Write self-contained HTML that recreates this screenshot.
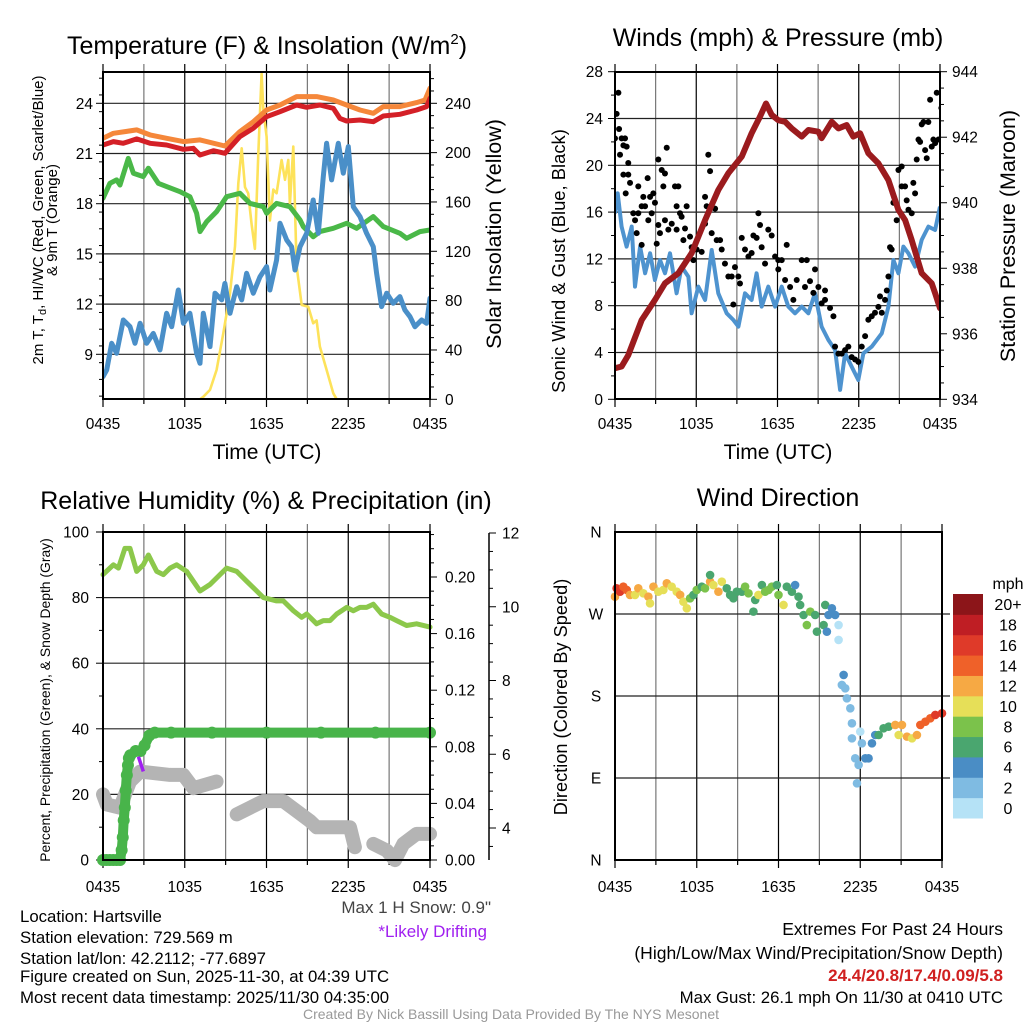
<!DOCTYPE html>
<html><head><meta charset="utf-8"><style>
html,body{margin:0;padding:0;background:#fff;}
svg{display:block;font-family:"Liberation Sans",Arial,sans-serif;}
</style></head><body>
<svg id="chart" width="1024" height="1024" viewBox="0 0 1024 1024" xmlns="http://www.w3.org/2000/svg">
<rect width="1024" height="1024" fill="#fff"/>
<g id="layer"></g>
<!-- titles -->
<text x="267" y="54" font-size="25" text-anchor="middle">Temperature (F) &amp; Insolation (W/m<tspan font-size="15" dy="-10">2</tspan><tspan dy="10">)</tspan></text>
<text x="778" y="46" font-size="25" text-anchor="middle">Winds (mph) &amp; Pressure (mb)</text>
<text x="266" y="509" font-size="25" text-anchor="middle">Relative Humidity (%) &amp; Precipitation (in)</text>
<text x="778" y="506" font-size="25" text-anchor="middle">Wind Direction</text>
<!-- axis titles -->
<text x="267" y="459" font-size="21" text-anchor="middle">Time (UTC)</text>
<text x="778" y="459" font-size="21" text-anchor="middle">Time (UTC)</text>
<text transform="translate(43,220) rotate(-90)" font-size="15" text-anchor="middle">2m T, T<tspan font-size="11" dy="3">d</tspan><tspan dy="-3">, HI/WC (Red, Green, Scarlet/Blue)</tspan></text>
<text transform="translate(57,220) rotate(-90)" font-size="15" text-anchor="middle">&amp; 9m T (Orange)</text>
<text transform="translate(501,234) rotate(-90)" font-size="21.5" text-anchor="middle">Solar Insolation (Yellow)</text>
<text transform="translate(565,261) rotate(-90)" font-size="18.4" text-anchor="middle">Sonic Wind &amp; Gust (Blue, Black)</text>
<text transform="translate(1015,236) rotate(-90)" font-size="21.5" text-anchor="middle">Station Pressure (Maroon)</text>
<text transform="translate(50,700) rotate(-90)" font-size="13.9" text-anchor="middle">Percent, Precipitation (Green), &amp; Snow Depth (Gray)</text>
<text transform="translate(567,697) rotate(-90)" font-size="18.2" text-anchor="middle">Direction (Colored By Speed)</text>
<!-- footer -->
<g font-size="16.8">
<text x="20" y="922">Location: Hartsville</text>
<text x="20" y="943">Station elevation: 729.569 m</text>
<text x="20" y="964">Station lat/lon: 42.2112; -77.6897</text>
<text x="20" y="982">Figure created on Sun, 2025-11-30, at 04:39 UTC</text>
<text x="20" y="1003">Most recent data timestamp: 2025/11/30 04:35:00</text>
</g>
<text x="491" y="913" font-size="17" text-anchor="end" fill="#444">Max 1 H Snow: 0.9"</text>
<text x="487" y="937" font-size="17" text-anchor="end" fill="#a020f0">*Likely Drifting</text>
<g text-anchor="end">
<text x="1003" y="935" font-size="17.5">Extremes For Past 24 Hours</text>
<text x="1003" y="959" font-size="17.5">(High/Low/Max Wind/Precipitation/Snow Depth)</text>
<text x="1003" y="981" font-size="17" fill="#d02020" font-weight="bold">24.4/20.8/17.4/0.09/5.8</text>
<text x="1003" y="1003" font-size="16.8">Max Gust: 26.1 mph On 11/30 at 0410 UTC</text>
</g>
<text x="511" y="1019" font-size="14" text-anchor="middle" fill="#999">Created By Nick Bassill Using Data Provided By The NYS Mesonet</text>
</svg>
<script>
// ---- Panel 1 data ----
const tempH=[0,0.76,1.49,2.47,3.45,4.67,5.9,6.63,7.12,8.10,8.95,10.05,11.03,12.01,12.99,14.21,14.95,15.92,16.90,17.39,17.88,18.86,19.84,20.57,21.79,23.02,23.75,24];
const tempF=[21.51,21.71,21.61,21.87,21.61,21.51,21.25,21.31,20.91,21.17,21.01,22.01,22.51,23.20,23.50,23.90,23.76,23.90,23.70,23.10,22.94,23.0,22.9,23.24,23.34,23.6,23.8,24.3];
const t9H=[0,0.76,2.47,3.45,4.67,5.9,7.12,8.95,10.05,11.03,12.01,12.99,14.21,15.68,16.90,17.88,18.86,19.84,20.57,21.79,23.02,23.63,24];
const t9F=[21.91,22.21,22.41,22.11,21.91,21.71,21.81,21.45,22.31,22.9,23.6,23.9,24.4,24.4,24.2,23.9,23.6,23.4,23.8,23.8,24.04,24.2,24.9];
const tdH=[0,0.51,1.0,1.25,1.86,2.23,2.96,3.33,4.06,4.67,5.65,6.38,6.87,7.12,7.61,8.34,9.07,10.05,10.79,11.77,12.01,12.74,13.72,14.46,14.70,15.43,15.92,16.90,17.88,18.61,19.84,20.57,21.79,22.28,23.26,24];
const tdF=[18.32,19.22,19.42,19.12,20.71,19.82,19.62,20.12,19.22,19.02,18.72,18.42,17.43,16.33,16.93,17.53,18.42,18.62,18.02,17.82,17.43,18.02,17.82,17.03,16.63,16.03,16.33,16.53,16.83,16.53,17.23,16.63,16.23,15.93,16.33,16.43];
const hiH=[0,0.27,0.64,1.0,1.49,1.98,2.35,2.72,3.20,3.69,4.18,4.67,5.04,5.53,5.90,6.38,6.87,7.12,7.36,7.85,8.22,8.71,8.95,9.32,9.81,10.18,10.54,11.03,11.52,12.01,12.25,12.74,12.99,13.48,13.84,14.09,14.46,14.95,15.43,15.80,16.17,16.41,16.78,17.27,17.64,18.0,18.37,18.86,19.35,19.84,20.08,20.45,20.82,21.30,21.79,22.16,22.53,22.89,23.38,23.75,24];
const hiF=[7.67,8.06,9.66,9.06,11.05,10.65,9.66,10.85,9.66,10.25,9.26,11.45,10.65,12.84,10.85,11.45,9.06,8.46,11.45,9.46,12.65,12.25,13.24,11.45,13.04,12.25,13.84,12.65,13.64,14.24,12.84,14.64,16.83,15.83,15.43,14.04,15.43,16.23,18.22,16.23,19.62,21.61,19.42,21.61,19.82,21.41,17.82,17.23,16.23,15.43,13.84,11.85,12.65,12.05,12.45,11.65,11.25,10.65,11.05,10.85,12.35];
const solH=[0,7.12,7.36,7.85,8.34,8.83,9.32,9.69,9.93,10.18,10.42,10.66,10.91,11.15,11.40,11.64,11.77,12.01,12.25,12.50,12.74,13.11,13.36,13.6,13.72,13.97,14.21,14.58,15.07,15.43,15.68,15.92,16.41,16.90,17.15,24];
const solW=[0,0,2,7.6,23.8,53.5,86,124,175,203.5,172,167,142,122,199,264,234,213,145,170,167,194,178,194,158,205,108,76.5,75,61.6,64,42.7,23.8,4.9,0,0];
const tempTicks=[9,12,15,18,21,24];
const solarTicks=[0,40,80,120,160,200,240];
const timeLabels=["0435","1035","1635","2235","0435"];
// ---- Panel 2 data ----
const presH=[0,.49,.98,1.97,2.95,3.69,4.68,5.66,6.65,7.63,8.37,9.36,10.09,10.71,11.15,11.57,12.06,12.56,13.05,13.79,14.28,15.02,15.26,16.0,16.5,17.11,17.6,18.1,18.71,19.45,20.19,20.93,21.42,21.91,22.65,23.39,23.64,24];
const presMb=[934.95,935.0,935.35,936.42,937.03,937.54,937.85,938.46,939.47,940.39,940.9,941.41,942.12,942.63,943.03,942.68,942.52,942.47,942.27,942.02,942.22,942.17,941.97,942.47,942.27,942.37,942.02,942.12,941.51,941.2,940.69,939.78,939.47,938.86,937.85,937.54,937.24,936.78];
const windH=[0,.20,.49,.86,1.23,1.48,1.85,2.22,2.59,2.95,3.32,3.69,4.06,4.55,4.92,5.42,5.66,6.15,6.65,7.14,7.63,8.25,8.74,9.11,9.6,10.09,10.46,10.83,11.32,11.82,12.31,12.8,13.29,13.79,14.28,14.77,15.26,15.76,16.25,16.62,16.99,17.48,17.97,18.34,18.96,19.7,20.19,20.56,20.93,21.3,21.67,22.16,22.65,23.14,23.64,24];
const windMph=[15.90,17.61,14.76,13.05,14.76,9.63,13.05,10.77,12.48,10.20,11.91,10.77,12.48,9.06,11.34,10.48,7.35,9.63,8.49,12.76,9.06,7.35,6.78,6.21,9.06,8.49,10.77,7.92,9.63,7.92,9.63,7.92,7.35,7.92,7.35,9.06,6.21,5.07,4.22,0.80,3.93,2.79,1.65,3.93,4.50,5.64,7.92,11.91,10.77,13.05,12.48,11.34,13.62,14.76,14.47,16.47];
const gustH=[0,.12,.25,.3,.49,.62,.74,.37,.62,.86,.98,1.11,.79,.98,1.35,1.48,1.6,1.72,1.72,1.97,2.09,2.22,2.41,2.59,2.83,2.71,2.95,2.46,1.97,3.2,3.45,3.69,3.82,3.57,3.2,3.32,3.08,3.69,3.94,4.19,4.43,4.68,4.55,4.8,4.92,4.55,5.17,5.05,5.29,5.54,5.66,5.79,6.03,6.4,6.65,6.77,6.89,7.02,7.14,6.65,7.39,7.51,7.76,7.88,8.12,8.37,8.62,8.86,9.11,9.23,8.74,9.36,9.6,9.85,10.09,10.22,10.46,10.59,10.71,10.83,11.08,11.32,11.57,11.82,12.06,12.06,12.31,12.68,12.56,12.93,13.17,13.42,13.79,14.16,14.03,14.4,14.77,14.65,15.02,15.26,15.51,15.51,15.88,16.13,16.25,16.5,16.74,16.99,17.23,17.48,17.73,17.97,18.22,18.47,18.71,18.96,19.2,19.45,19.57,19.7,19.94,20.07,20.19,20.31,20.43,20.56,20.8,20.93,21.17,21.17,21.42,21.54,21.67,21.91,22.03,22.16,22.28,22.41,22.53,22.65,22.78,22.9,23.02,23.14,23.27,23.39,23.51,23.64,23.76,23.88,24.1];
const gustMph=[22.3,24.4,26.2,23.1,22.3,21.7,22.3,20.9,19.2,21.6,20.2,18.5,17.6,19.2,15.9,15.3,14.2,15.9,18.2,16.5,17.3,16.5,18.9,17.3,17.6,15.9,16.8,15.3,13.2,20.5,19.6,19.3,21.5,18.2,14.9,14.2,13.3,15.3,14.5,15.0,18.2,18.2,16.5,15.9,15.6,14.5,14.6,13.6,16.5,13.9,13.0,11.9,12.8,12.6,17.3,16.5,20.9,19.5,14.2,15.0,16.3,13.6,13.6,12.8,11.6,10.5,10.5,11.3,10.5,9.9,8.1,13.8,12.8,12.2,12.5,14.0,13.8,15.9,14.9,13.0,11.6,14.5,14.0,12.2,11.9,11.1,11.9,13.2,10.2,9.6,8.5,10.2,11.9,11.9,9.6,10.1,11.1,9.1,9.6,8.2,8.5,9.3,7.8,7.1,4.5,3.9,3.9,4.2,4.5,3.6,3.4,3.2,4.5,5.4,6.8,7.1,7.4,7.9,8.8,7.4,8.5,9.3,10.5,13.0,12.8,16.8,15.3,19.6,19.9,18.2,18.2,17.0,16.2,15.9,18.5,17.6,20.5,22.2,22.0,23.5,23.7,21.3,20.6,23.7,25.6,21.6,22.2,21.9,26.2,22.2,24.9];
const windTicks=[0,4,8,12,16,20,24,28];
const presTicks=[934,936,938,940,942,944];
// ---- Panel 3 data ----
const rhH=[0,0.76,1.13,1.61,1.98,2.47,2.96,3.33,3.94,4.43,4.92,5.41,6.14,6.63,7.12,7.85,8.59,9.07,9.81,10.54,11.28,11.77,12.74,13.23,13.97,14.58,14.95,15.68,16.17,16.66,17.15,17.88,18.37,18.86,19.35,19.84,20.45,21.06,21.55,22.28,23.02,24];
const rhPct=[87,90,89,95,95,88,90,93,88,87,89,90,88,85,82,84,87,89,88,85,82,80,79,79,76,74,75,72,73,73,75,77,76,77,77,78,75,74,73,71.5,72,71];
const precipH=[0,0.25,0.5,0.75,1.0,1.25,1.37,1.45,1.52,1.6,1.67,1.75,1.83,1.9,2.0,2.4,2.75,3.05,3.4,3.8,5,8,12,16,20,24];
const precipIn=[0,0,0,0,0,0,0.007,0.016,0.028,0.037,0.049,0.06,0.067,0.072,0.074,0.077,0.077,0.081,0.088,0.09,0.09,0.09,0.09,0.09,0.09,0.09];
const snowH=[0,0.27,1.25,1.98,2.72,4.92,5.9,6.63,8.34,null,9.81,10.79,11.77,13.23,14.21,15.19,15.68,18.13,18.49,null,19.84,20.82,21.43,22.04,23.02,24];
const snowIn=[4.91,4.64,4.55,5.26,5.53,5.44,5.44,5.08,5.26,null,4.37,4.55,4.73,4.73,4.46,4.19,4.02,4.02,3.48,null,3.57,3.39,3.13,3.57,3.84,3.84];
const rhTicks=[0,20,40,60,80,100];
const precipTicks=[0,0.04,0.08,0.12,0.16,0.20];
const snowTicks=[4,6,8,10,12];
// ---- Panel 4 data ----
const dirH=[0,.12,.37,.61,.86,1.1,1.47,1.71,2.08,2.45,2.57,2.82,3.18,3.55,3.8,4.16,4.53,4.78,5.02,5.27,5.51,5.76,6.0,6.37,6.61,6.98,6.98,7.22,7.59,7.84,8.2,8.45,8.69,8.94,9.31,9.55,9.8,10.16,10.29,10.53,10.78,11.02,11.27,11.51,11.88,12.0,12.37,12.61,12.98,13.22,13.47,13.59,13.84,14.08,14.33,14.69,14.82,15.31,15.43,15.55,15.67,15.92,16.16,16.41,16.41,16.78,16.65,16.9,17.02,17.27,17.39,17.39,17.63,17.76,17.88,18.0,18.12,18.37,18.61,18.86,19.1,19.35,19.71,20.08,20.57,20.82,21.06,21.43,21.8,22.16,22.41,22.78,23.14,23.51,24];
const dirDeg=[289.0,298.2,294.5,300.0,296.4,290.9,290.9,298.2,292.7,289.0,281.7,300.0,294.5,296.4,303.7,300.0,294.5,290.9,283.5,276.2,287.2,290.9,296.4,300.0,298.2,305.5,312.8,301.8,294.5,305.5,298.2,290.9,287.2,294.5,294.5,300.0,292.7,272.6,285.4,290.9,301.8,294.5,296.4,300.0,301.8,290.9,279.9,300.0,294.5,301.8,289.0,279.9,268.9,257.9,272.6,268.9,250.6,257.9,279.9,250.6,268.9,276.2,268.9,257.9,241.5,203.1,192.1,188.4,177.4,166.5,150.0,133.5,111.6,84.2,104.3,140.9,128.1,111.6,111.6,128.1,137.2,137.2,144.5,146.3,148.2,137.2,148.2,135.4,133.5,137.2,148.2,151.8,155.5,159.2,161.0];
const dirSpd=[13,17,16,15,14,12,10,12,11,12,10,12,11,11,12,11,11,12,10,10,8,7,8,7,9,13,6,11,12,10,7,6,6,7,6,8,8,6,7,10,7,8,9,8,7,8,10,7,6,4,6,6,6,8,8,6,6,6,6,4,4,4,4,1,0,4,2,2,2,2,2,2,2,2,2,1,2,4,4,4,4,6,6,7,12,10,12,12,10,12,14,14,15,16,16];
const dirLabels=["N","E","S","W","N"];
const speedBins=["0","2","4","6","8","10","12","14","16","18","20+"];
const speedColors=["#b5e2f6","#7fbbe2","#4a8dc5","#4aa66f","#7bc24b","#e6df58","#f6a944","#ef6129","#df3a29","#bf1e24","#8c1519"];

const NS="http://www.w3.org/2000/svg";
const layer=document.getElementById('layer');
const TF=15.5;
function el(tag,attrs,parent){const e=document.createElementNS(NS,tag);for(const k in attrs)e.setAttribute(k,attrs[k]);(parent||layer).appendChild(e);return e;}
function txt(x,y,s,size,anchor,parent){const t=el('text',{x:x,y:y,'font-size':size,'text-anchor':anchor||'middle'},parent);t.textContent=s;return t;}
function lin(d0,d1,r0,r1){return v=>r0+(v-d0)/(d1-d0)*(r1-r0);}
function pathOf(hs,vs,xf,yf){let d='',pen=false;for(let i=0;i<hs.length;i++){if(hs[i]===null||vs[i]===null){pen=false;continue;}d+=(pen?'L':'M')+xf(hs[i]).toFixed(1)+','+yf(vs[i]).toFixed(1);pen=true;}return d;}

function frame(x0,x1,y0,y1,name){
  const g=el('g',{});
  
  
  for(let i=1;i<8;i++){const x=x0+(x1-x0)*i/8;el('line',{x1:x,x2:x,y1:y0-8,y2:y1,stroke:i%2?'#777':'#000','stroke-width':1.2},g);}
  for(let i=0;i<=8;i++){const x=x0+(x1-x0)*i/8;el('line',{x1:x,x2:x,y1:y1,y2:y1+(i%2?5:8),stroke:'#000','stroke-width':1.2},g);if(i==0||i==8)el('line',{x1:x,x2:x,y1:y0-8,y2:y0,stroke:'#000','stroke-width':1.2},g);}
  return g;
}
function box(x0,x1,y0,y1,name){const r=el('rect',{x:x0,y:y0,width:x1-x0,height:y1-y0,fill:'none',stroke:'#000','stroke-width':2});}
function xLabels(x0,x1,y){const g=el('g',{});timeLabels.forEach((s,i)=>txt(x0+(x1-x0)*i/4,y,s,TF,'middle',g));}

// ===== Panel 1 =====
(function(){
  const x0=103,x1=430,y0=72,y1=399;
  const X=lin(0,24,x0,x1), Y=lin(24,21,103.3,153.5), YS=lin(0,240,399.3,103.3);
  const g=frame(x0,x1,y0,y1,'temp');
  tempTicks.forEach(v=>{const y=Y(v);el('line',{x1:x0,x2:x1,y1:y,y2:y,stroke:'#222','stroke-width':1.2},g);el('line',{x1:x0-7,x2:x0,y1:y,y2:y,stroke:'#000'},g);const t=txt(x0-10,y+5.5,String(v),TF,'end');});
  for(let v=6.5;v<26;v+=1){const y=Y(v);if(y>y0&&y<y1)el('line',{x1:x0-4,x2:x0,y1:y,y2:y,stroke:'#000'},g);}
  for(let w=0;w<=260;w+=10){const y=YS(w);el('line',{x1:x1,x2:x1+(w%40?4:7),y1:y,y2:y,stroke:'#000'},g);}
  solarTicks.forEach(v=>{const t=txt(x1+15,YS(v)+5.5,String(v),TF,'start');});
  xLabels(x0,x1,429);
  const cp=el('clipPath',{id:'c1'});el('rect',{x:x0,y:y0,width:x1-x0,height:y1-y0},cp);
  const sg=el('g',{'clip-path':'url(#c1)'});
  let p;
  p=el('path',{d:pathOf(solH,solW,X,YS),fill:'none',stroke:'#fde25a','stroke-width':2.6,'stroke-linejoin':'round'},sg);
  p=el('path',{d:pathOf(tdH,tdF,X,Y),fill:'none',stroke:'#4ab848','stroke-width':5,'stroke-linejoin':'round','stroke-linecap':'round'},sg);
  p=el('path',{d:pathOf(hiH,hiF,X,Y),fill:'none',stroke:'#4a8fc8','stroke-width':5,'stroke-linejoin':'round','stroke-linecap':'round'},sg);
  p=el('path',{d:pathOf(t9H,t9F,X,Y),fill:'none',stroke:'#f5873a','stroke-width':5,'stroke-linejoin':'round','stroke-linecap':'round'},sg);
  p=el('path',{d:pathOf(tempH,tempF,X,Y),fill:'none',stroke:'#d42027','stroke-width':5,'stroke-linejoin':'round','stroke-linecap':'round'},sg);
  box(x0,x1,y0,y1,'temp');
})();

// ===== Panel 2 =====
(function(){
  const x0=615,x1=940,y0=72,y1=399;
  const X=lin(0,24,x0,x1), Y=lin(0,28,399.3,71.7), YP=lin(934,944,399.3,71.7);
  const g=frame(x0,x1,y0,y1,'wind');
  windTicks.forEach(v=>{const y=Y(v);if(v>0&&v<28)el('line',{x1:x0,x2:x1,y1:y,y2:y,stroke:'#222','stroke-width':1.2},g);el('line',{x1:x0-7,x2:x0,y1:y,y2:y,stroke:'#000'},g);const t=txt(x0-12,y+5.5,String(v),TF,'end');});
  for(let v=2;v<28;v+=4)el('line',{x1:x0-4,x2:x0,y1:Y(v),y2:Y(v),stroke:'#000'},g);
  for(let v=934;v<=944.01;v+=0.5){const y=YP(v);el('line',{x1:x1,x2:x1+((v*2)%4?4:7),y1:y,y2:y,stroke:'#000'},g);}
  presTicks.forEach(v=>{const t=txt(x1+12,YP(v)+5.5,String(v),TF,'start');});
  xLabels(x0,x1,429);
  const cp=el('clipPath',{id:'c2'});el('rect',{x:x0,y:y0,width:x1-x0,height:y1-y0},cp);
  const sg=el('g',{'clip-path':'url(#c2)'});
  let p=el('path',{d:pathOf(windH,windMph,X,Y),fill:'none',stroke:'#4e93cf','stroke-width':4,'stroke-linejoin':'round'},sg);
  
  
  const dg=el('g',{},sg);
  
  
  gustH.forEach((h,i)=>{const c=el('circle',{cx:X(h),cy:Y(gustMph[i]),r:3,fill:'#000'},dg);});
  p=el('path',{d:pathOf(presH,presMb,X,YP),fill:'none',stroke:'#9b1b1e','stroke-width':6,'stroke-linejoin':'round','stroke-linecap':'round'},sg);
  
  
  box(x0,x1,y0,y1,'wind');
})();

// ===== Panel 3 =====
(function(){
  const x0=103,x1=430,y0=532,y1=860;
  const X=lin(0,24,x0,x1), Y=lin(0,100,860,532), YI=lin(0,0.2,860,577), YS=lin(12,4,533,828);
  const g=frame(x0,x1,y0,y1,'rh');
  rhTicks.forEach(v=>{const y=Y(v);if(v>0&&v<100)el('line',{x1:x0,x2:x1,y1:y,y2:y,stroke:'#222','stroke-width':1.2},g);el('line',{x1:x0-7,x2:x0,y1:y,y2:y,stroke:'#000'},g);const t=txt(x0-14,y+5.5,String(v),TF,'end');});
  for(let v=10;v<100;v+=20)el('line',{x1:x0-4,x2:x0,y1:Y(v),y2:Y(v),stroke:'#000'},g);
  for(let k=0;k<=23;k++){const v=k*0.01,y=YI(v);el('line',{x1:x1,x2:x1+(k%4?4:7),y1:y,y2:y,stroke:'#000'},g);}
  precipTicks.forEach(v=>{const t=txt(x1+15,YI(v)+5.5,v.toFixed(2),TF,'start');});
  el('line',{x1:489,x2:489,y1:533,y2:860,stroke:'#000','stroke-width':1.5},g);
  for(let k=0;k<=17;k++){const v=12-k*0.5,y=YS(v);if(y<=861)el('line',{x1:489,x2:489+(k%4?4:7),y1:y,y2:y,stroke:'#000'},g);}
  snowTicks.forEach(v=>{const t=txt(502,YS(v)+5.5,String(v),TF,'start');});
  xLabels(x0,x1,892);
  const cp=el('clipPath',{id:'c3'});el('rect',{x:x0-10,y:y0,width:x1-x0+20,height:y1-y0+12},cp);
  const sg=el('g',{'clip-path':'url(#c3)'});
  let p=el('path',{d:pathOf(snowH,snowIn,X,YS),fill:'none',stroke:'#b4b4b4','stroke-width':14,'stroke-linejoin':'round','stroke-linecap':'round'},sg);
  
  
  p=el('path',{d:pathOf(precipH,precipIn,X,YI),fill:'none',stroke:'#48b44a','stroke-width':10,'stroke-linejoin':'round','stroke-linecap':'round'},sg);
  
  
  precipH.forEach((h,i)=>{const c=el('circle',{cx:X(h),cy:YI(precipIn[i]),r:6,fill:'#48b44a'},sg);});
  p=el('line',{x1:X(2.6),y1:Y(31.5),x2:X(2.96),y2:Y(27),stroke:'#a020f0','stroke-width':3.5},sg);
  
  
  p=el('path',{d:pathOf(rhH,rhPct,X,Y),fill:'none',stroke:'#8cc84b','stroke-width':5,'stroke-linejoin':'round','stroke-linecap':'round'},sg);
  
  
  box(x0,x1,y0,y1,'rh');
})();

// ===== Panel 4 =====
(function(){
  const x0=615,x1=942,y0=532,y1=860;
  const X=lin(0,24,x0,x1), Y=lin(0,360,860,532);
  const g=frame(x0,x1,y0,y1,'dir');
  [90,180,270].forEach(v=>el('line',{x1:x0,x2:x1+8,y1:Y(v),y2:Y(v),stroke:'#222','stroke-width':1.2},g));
  dirLabels.forEach((s,i)=>{const t=txt(x0-19,Y(i*90)+5.5,s,TF,'middle');});
  xLabels(x0,x1,892);
  const dg=el('g',{});
  
  
  dirH.forEach((h,i)=>{const idx=Math.min(10,Math.floor(dirSpd[i]/2));const c=el('circle',{cx:X(h),cy:Y(dirDeg[i]),r:4.3,fill:speedColors[idx]},dg);});
  box(x0,x1,y0,y1,'dir');
  const cb=el('g',{});
  
  
  const cy0=594,cy1=818,n=speedBins.length,hgt=(cy1-cy0)/n;
  speedBins.forEach((s,i)=>{const y=cy1-(i+1)*hgt;el('rect',{x:953,y:y,width:30,height:hgt+0.5,fill:speedColors[i]},cb);txt(1008,y+hgt/2+6,s,16,'middle',cb);});
  txt(1008,589,'mph',16,'middle',cb);
})();
</script>
</body></html>
